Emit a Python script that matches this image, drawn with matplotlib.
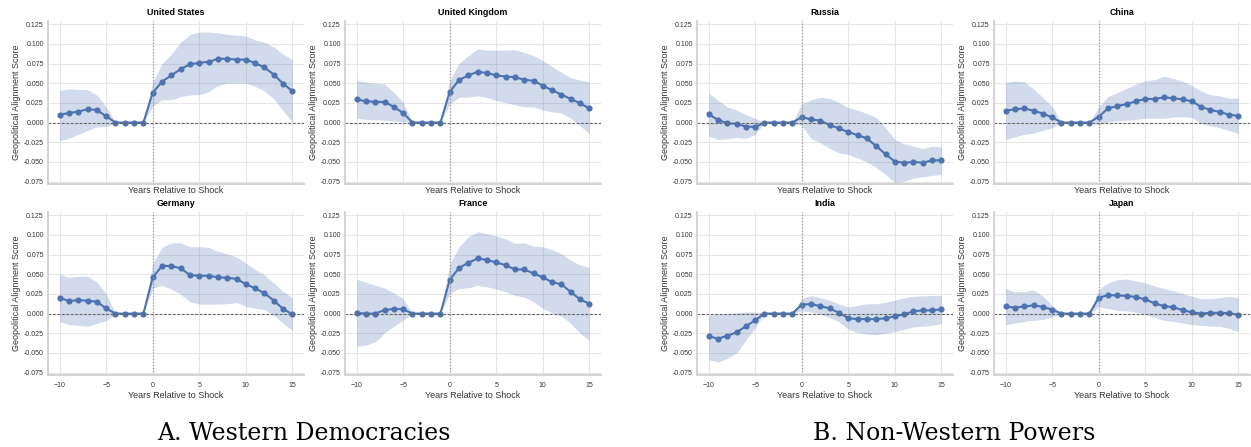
import numpy as np
import matplotlib
matplotlib.use("Agg")
import matplotlib.pyplot as plt

# Años relativos al shock
years = np.arange(-10, 16)

# Estimaciones puntuales y bandas
us_est = [0.010, 0.012, 0.014, 0.017, 0.016, 0.008, 0, 0, 0, 0,
          0.038, 0.052, 0.060, 0.068, 0.074, 0.076, 0.077, 0.081, 0.081, 0.080,
          0.080, 0.0755, 0.070, 0.061, 0.0495, 0.040]
us_hi = [0.041, 0.043, 0.042, 0.042, 0.035, 0.020, 0, 0, 0, 0,
         0.051, 0.075, 0.087, 0.102, 0.112, 0.115, 0.115, 0.114, 0.112, 0.111,
         0.110, 0.105, 0.102, 0.096, 0.087, 0.080]
us_lo = [-0.023, -0.020, -0.015, -0.010, -0.0055, -0.005, 0, 0, 0, 0,
         0.021, 0.029, 0.029, 0.033, 0.035, 0.0355, 0.039, 0.047, 0.050, 0.050,
         0.050, 0.046, 0.040, 0.030, 0.015, 0.001]

uk_est = [0.0295, 0.027, 0.0265, 0.026, 0.020, 0.012, 0, 0, 0, 0,
          0.039, 0.054, 0.060, 0.0645, 0.063, 0.060, 0.0585, 0.0575, 0.0545, 0.053,
          0.047, 0.041, 0.0355, 0.030, 0.0245, 0.018]
uk_hi = [0.054, 0.051, 0.050, 0.049, 0.038, 0.026, 0, 0, 0, 0,
         0.053, 0.0755, 0.085, 0.0935, 0.092, 0.092, 0.092, 0.0925, 0.089, 0.085,
         0.079, 0.071, 0.064, 0.057, 0.054, 0.052]
uk_lo = [0.0055, 0.004, 0.0035, 0.003, 0.002, 0.001, 0, 0, 0, 0,
         0.0235, 0.032, 0.0325, 0.034, 0.032, 0.028, 0.0255, 0.0225, 0.020, 0.020,
         0.016, 0.0135, 0.012, 0.0055, -0.004, -0.014]

de_est = [0.020, 0.016, 0.017, 0.0165, 0.015, 0.0065, 0, 0, 0, 0,
          0.046, 0.0605, 0.0605, 0.0575, 0.049, 0.048, 0.048, 0.046, 0.0455, 0.044,
          0.0375, 0.032, 0.026, 0.0165, 0.006, -0.001]
de_hi = [0.050, 0.046, 0.0475, 0.0475, 0.040, 0.025, 0, 0, 0, 0,
         0.0635, 0.084, 0.090, 0.090, 0.085, 0.085, 0.084, 0.079, 0.076, 0.072,
         0.064, 0.056, 0.049, 0.039, 0.028, 0.020]
de_lo = [-0.010, -0.014, -0.015, -0.016, -0.0125, -0.009, 0, 0, 0, 0,
         0.032, 0.036, 0.031, 0.0245, 0.015, 0.012, 0.012, 0.012, 0.0125, 0.014,
         0.009, 0.007, 0.005, -0.002, -0.0125, -0.021]

fr_est = [0.001, 0.0, 0.0, 0.0045, 0.006, 0.0055, 0, 0, 0, 0,
          0.043, 0.058, 0.0645, 0.070, 0.068, 0.065, 0.0615, 0.056, 0.056, 0.051,
          0.046, 0.040, 0.037, 0.0275, 0.018, 0.0125]
fr_hi = [0.0435, 0.040, 0.036, 0.0325, 0.026, 0.019, 0, 0, 0, 0,
         0.0625, 0.085, 0.0975, 0.104, 0.1015, 0.0985, 0.095, 0.089, 0.090, 0.0855,
         0.085, 0.081, 0.076, 0.068, 0.0615, 0.059]
fr_lo = [-0.0415, -0.040, -0.036, -0.0245, -0.016, -0.0085, 0, 0, 0, 0,
         0.0255, 0.032, 0.0325, 0.036, 0.034, 0.031, 0.028, 0.023, 0.021, 0.015,
         0.0065, 0.001, -0.0035, -0.0125, -0.025, -0.034]

ru_est = [0.0105, 0.0035, -0.001, -0.0015, -0.005, -0.0055, 0, 0, 0, 0,
          0.007, 0.004, 0.0025, -0.003, -0.0075, -0.012, -0.016, -0.020, -0.030, -0.040,
          -0.0495, -0.051, -0.050, -0.051, -0.048, -0.048]
ru_hi = [0.0375, 0.0285, 0.020, 0.016, 0.010, 0.0055, 0, 0, 0, 0,
         0.0235, 0.029, 0.032, 0.031, 0.0255, 0.019, 0.016, 0.0115, 0.0065, -0.0065,
         -0.0215, -0.027, -0.030, -0.033, -0.030, -0.031]
ru_lo = [-0.017, -0.0215, -0.0205, -0.019, -0.020, -0.015, 0, 0, 0, 0,
         -0.004, -0.0205, -0.0255, -0.033, -0.0385, -0.0405, -0.045, -0.050, -0.057, -0.066,
         -0.076, -0.0745, -0.0705, -0.069, -0.067, -0.066]

cn_est = [0.015, 0.017, 0.018, 0.015, 0.0115, 0.0065, 0, 0, 0, 0,
          0.0075, 0.018, 0.021, 0.0235, 0.027, 0.030, 0.030, 0.032, 0.031, 0.0295,
          0.027, 0.020, 0.016, 0.0135, 0.010, 0.0085]
cn_hi = [0.051, 0.053, 0.052, 0.0425, 0.032, 0.020, 0, 0, 0, 0,
         0.020, 0.033, 0.038, 0.0435, 0.049, 0.053, 0.0545, 0.059, 0.056, 0.0525,
         0.047, 0.040, 0.0355, 0.034, 0.031, 0.031]
cn_lo = [-0.0215, -0.018, -0.015, -0.0135, -0.010, -0.0065, 0, 0, 0, 0,
         -0.003, 0.0013, 0.002, 0.003, 0.004, 0.0055, 0.0055, 0.0055, 0.007, 0.0075,
         0.0065, -0.001, -0.004, -0.0065, -0.010, -0.014]

in_est = [-0.0285, -0.032, -0.028, -0.024, -0.016, -0.0085, 0, 0, 0, 0,
          0.0115, 0.012, 0.0095, 0.0065, 0.001, -0.006, -0.007, -0.007, -0.007, -0.006,
          -0.0035, -0.001, 0.003, 0.004, 0.004, 0.0055]
in_hi = [-0.002, -0.001, 0.0, 0.001, 0.002, 0.002, 0, 0, 0, 0,
         0.019, 0.023, 0.020, 0.017, 0.012, 0.0085, 0.0105, 0.0125, 0.0125, 0.0145,
         0.017, 0.020, 0.022, 0.0225, 0.023, 0.023]
in_lo = [-0.0585, -0.0615, -0.057, -0.050, -0.034, -0.018, 0, 0, 0, 0,
         0.0035, 0.002, -0.001, -0.005, -0.0105, -0.020, -0.024, -0.026, -0.027, -0.025,
         -0.023, -0.020, -0.017, -0.016, -0.015, -0.0125]

jp_est = [0.009, 0.0075, 0.009, 0.0105, 0.0085, 0.005, 0, 0, 0, 0,
          0.020, 0.0235, 0.023, 0.0225, 0.021, 0.018, 0.013, 0.0095, 0.008, 0.0045,
          0.0015, 0.0, 0.001, 0.001, 0.0005, -0.0015]
jp_hi = [0.032, 0.0275, 0.028, 0.030, 0.022, 0.0105, 0, 0, 0, 0,
         0.0305, 0.039, 0.043, 0.044, 0.0415, 0.039, 0.035, 0.032, 0.029, 0.0255,
         0.022, 0.019, 0.019, 0.020, 0.022, 0.020]
jp_lo = [-0.014, -0.012, -0.010, -0.0085, -0.0075, -0.004, 0, 0, 0, 0,
         0.0085, 0.0065, 0.004, 0.0035, 0.0017, -0.001, -0.005, -0.0085, -0.010, -0.012,
         -0.014, -0.015, -0.016, -0.016, -0.019, -0.023]

countries = ["United States", "United Kingdom", "Germany", "France",
             "Russia", "China", "India", "Japan"]
estimates = [us_est, uk_est, de_est, fr_est, ru_est, cn_est, in_est, jp_est]
uppers = [us_hi, uk_hi, de_hi, fr_hi, ru_hi, cn_hi, in_hi, jp_hi]
lowers = [us_lo, uk_lo, de_lo, fr_lo, ru_lo, cn_lo, in_lo, jp_lo]

W, H = 1251, 447
fig = plt.figure(figsize=(W / 100, H / 100), dpi=100)

# posiciones en pixeles (izquierda, arriba) de cada panel
lefts = [48, 345, 48, 345, 697, 994, 697, 994]
tops = [21, 21, 212, 212, 21, 21, 212, 212]
aw, ah = 256, 163

color = "#4C72B0"
for i, name in enumerate(countries):
    ax = fig.add_axes([lefts[i] / W, 1 - (tops[i] + ah) / H, aw / W, ah / H])
    ax.fill_between(years, lowers[i], uppers[i], color=color, alpha=0.25, linewidth=0)
    ax.plot(years, estimates[i], "o-", color=color, lw=1.5, ms=3.4)
    ax.axhline(0, color="#666666", ls=(0, (2.5, 1.5)), lw=0.8)
    ax.axvline(0, color="#999999", ls=(0, (1, 1.5)), lw=0.9)
    ax.set_ylim(-0.078, 0.129)
    ax.set_yticks(np.arange(-0.075, 0.126, 0.025))
    ax.set_xticks([-10, -5, 0, 5, 10, 15])
    ax.grid(True, color="#e6e6e6", lw=0.8)
    ax.set_axisbelow(True)
    for s in ["top", "right"]:
        ax.spines[s].set_visible(False)
    for s in ["left", "bottom"]:
        ax.spines[s].set_color("#d0d0d0")
        ax.spines[s].set_linewidth(1.3)
    ax.tick_params(length=0, labelsize=5.0, labelcolor="#333333")
    ax.tick_params(axis="x", pad=5)
    ax.tick_params(axis="y", pad=3)
    ax.yaxis.set_major_formatter(matplotlib.ticker.FormatStrFormatter("%.3f"))
    if tops[i] < 100:
        ax.tick_params(labelbottom=False)
    ax.set_title(name, fontsize=6.4, fontweight="bold", family="Liberation Sans", pad=4)
    ax.set_xlabel("Years Relative to Shock", fontsize=6.5, family="Liberation Sans",
                  color="#333333", labelpad=1.5)
    ax.set_ylabel("Geopolitical Alignment Score", fontsize=6.5, family="Liberation Sans",
                  color="#333333", labelpad=2)
    for lab in ax.get_xticklabels() + ax.get_yticklabels():
        lab.set_family("Liberation Sans")

fig.text(304 / W, 1 - 434 / H, "A. Western Democracies", ha="center", va="center",
         fontsize=17, family="DejaVu Serif")
fig.text(954 / W, 1 - 434 / H, "B. Non-Western Powers", ha="center", va="center",
         fontsize=17, family="DejaVu Serif")

fig.savefig("out.png", dpi=100)
